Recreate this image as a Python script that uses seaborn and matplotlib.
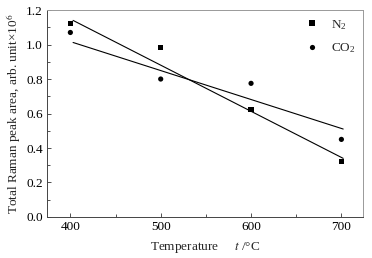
import matplotlib.pyplot as plt
import pandas as pd
import seaborn as sns

temps = [400, 500, 600, 700]
n2_area = [1.12, 0.985, 0.625, 0.32]
co2_area = [1.07, 0.80, 0.775, 0.45]

# fitted trend lines (end points)
fit_t = [403, 702]
n2_fit = [1.14, 0.34]
co2_fit = [1.012, 0.51]

df = pd.DataFrame({
    "t": temps * 2,
    "area": n2_area + co2_area,
    "gas": ["$\\mathregular{N_2}$"] * 4 + ["$\\mathregular{CO_2}$"] * 4,
})

sns.set_style("ticks")
plt.rcParams["font.family"] = ["Liberation Serif", "DejaVu Serif"]
plt.rcParams["mathtext.fontset"] = "stix"
plt.rcParams["font.size"] = 9.5

fig = plt.figure(figsize=(3.72, 2.58), dpi=100)
ax = fig.add_axes([0.126, 0.159, 0.850, 0.802])

ax.plot(fit_t, n2_fit, color="black", lw=0.8)
ax.plot(fit_t, co2_fit, color="black", lw=0.8)
sns.scatterplot(df, x="t", y="area", hue="gas", style="gas",
                palette=["black", "black"], markers=["s", "o"],
                s=14, edgecolor="none", ax=ax)

ax.set_xlim(374, 724)
ax.set_ylim(0, 1.2)
ax.set_xticks([400, 500, 600, 700])
ax.set_xticks([450, 550, 650], minor=True)
ax.set_yticks([0, 0.2, 0.4, 0.6, 0.8, 1.0, 1.2])
ax.set_yticks([0.1, 0.3, 0.5, 0.7, 0.9, 1.1], minor=True)
ax.yaxis.set_major_formatter(plt.FuncFormatter(lambda v, _: f"{v:.1f}"))
ax.tick_params(which="both", direction="in", width=0.6, colors="#333333", labelcolor="black")
ax.tick_params(which="major", length=3, pad=3)
ax.tick_params(which="minor", length=2)
ax.tick_params(axis="x", which="both", top=False)
ax.tick_params(axis="y", which="both", right=False)
for side in ["left", "bottom"]:
    ax.spines[side].set_color("#444444")
    ax.spines[side].set_linewidth(0.7)
for side in ["top", "right"]:
    ax.spines[side].set_color("#999999")
    ax.spines[side].set_linewidth(0.7)

ax.set_xlabel("Temperature     $t$ /\u00b0C", labelpad=5)
ax.set_ylabel("Total Raman peak area, arb. unit\u00d710$^{6}$", labelpad=2)

ax.legend(title=None, frameon=False, loc="upper right", handletextpad=0.9,
          labelspacing=0.75, borderaxespad=0.2, handlelength=1.0,
          bbox_to_anchor=(1.0, 1.0))

fig.savefig("out.png", dpi=100)
